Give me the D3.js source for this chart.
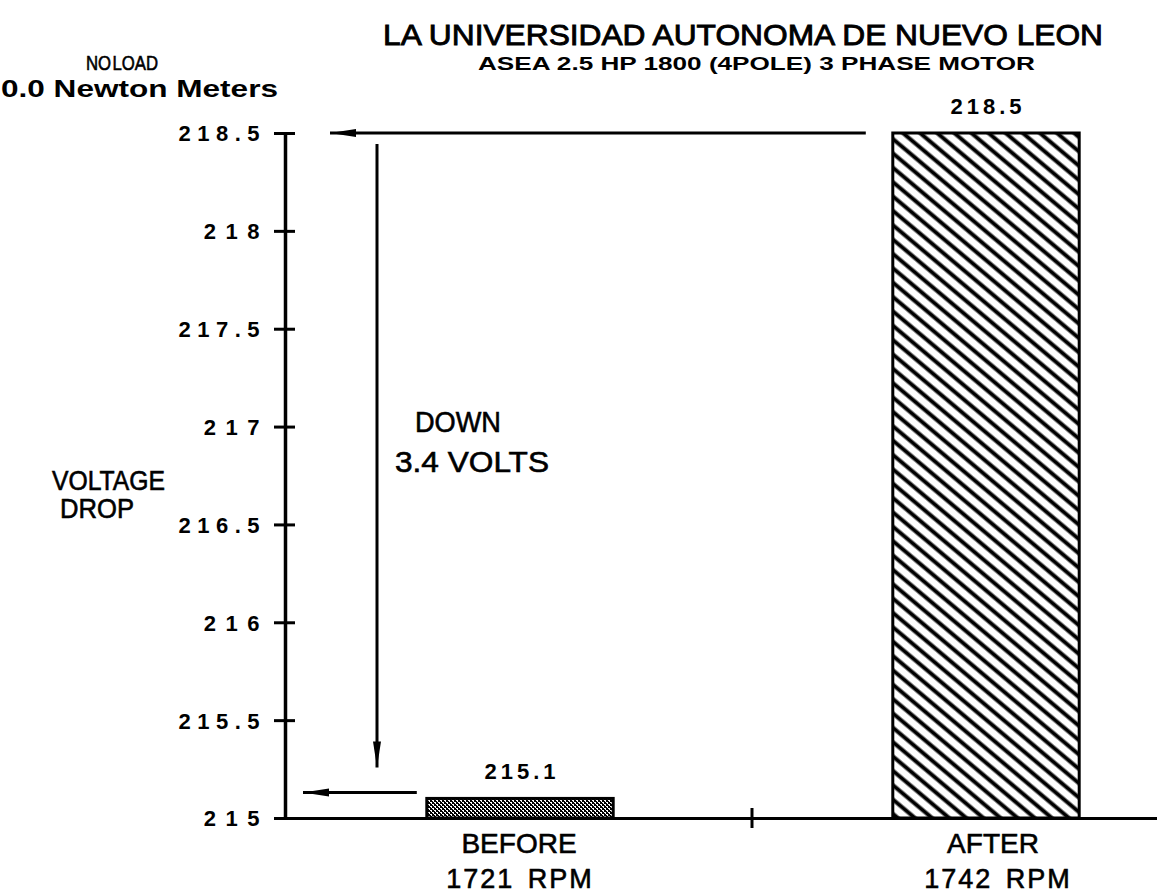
<!DOCTYPE html>
<html>
<head>
<meta charset="utf-8">
<script src="https://cdn.jsdelivr.net/npm/d3@7"></script>
<style>
  body { margin: 0; background: #fff; }
  text { font-family: "Liberation Sans", Arial, Helvetica, sans-serif; fill: #000; }
  .thick { stroke: #000; stroke-width: 0.6px; }
</style>
</head>
<body>
<div id="chart"></div>
<script>
// values
var categories = ["BEFORE", "AFTER"];
var rpmLabels = ["1721 RPM", "1742 RPM"];
var voltage = [215.1, 218.5];
var yTicks = [215, 215.5, 216, 216.5, 217, 217.5, 218, 218.5];

var width = 1157, height = 896;
var margin = {top: 133, right: -62, bottom: 78, left: 285};

var svg = d3.select("#chart").append("svg")
  .attr("width", width)
  .attr("height", height);

var defs = svg.append("defs");

// diagonal hatch for the AFTER bar
var hatch = defs.append("pattern")
  .attr("id", "hatch")
  .attr("patternUnits", "userSpaceOnUse")
  .attr("width", 11).attr("height", 11)
  .attr("patternTransform", "rotate(40)");
hatch.append("rect").attr("width", 11).attr("height", 11).attr("fill", "#fff");
hatch.append("line")
  .attr("x1", 0).attr("x2", 11).attr("y1", 5.5).attr("y2", 5.5)
  .attr("stroke", "#000").attr("stroke-width", 4);

// fine stipple for the BEFORE bar
var dots = defs.append("pattern")
  .attr("id", "stipple")
  .attr("patternUnits", "userSpaceOnUse")
  .attr("width", 4).attr("height", 4);
dots.append("rect").attr("width", 4).attr("height", 4).attr("fill", "#000");
dots.append("rect").attr("x", 0).attr("y", 0).attr("width", 2).attr("height", 1).attr("fill", "#fff");
dots.append("rect").attr("x", 2).attr("y", 2).attr("width", 2).attr("height", 1).attr("fill", "#fff");
dots.append("rect").attr("x", 1).attr("y", 1).attr("width", 1).attr("height", 1).attr("fill", "#fff");
dots.append("rect").attr("x", 3).attr("y", 3).attr("width", 1).attr("height", 1).attr("fill", "#fff");

defs.append("marker")
  .attr("id", "head")
  .attr("viewBox", "0 -5 26 10")
  .attr("refX", 26).attr("refY", 0)
  .attr("markerUnits", "userSpaceOnUse")
  .attr("markerWidth", 26).attr("markerHeight", 10)
  .attr("orient", "auto")
  .append("path")
  .attr("d", "M0,-4L26,0L0,4Z")
  .attr("fill", "#000");

var x = d3.scaleBand()
  .domain(categories)
  .range([margin.left + 2, width - margin.right])
  .padding(0);

var y = d3.scaleLinear()
  .domain([215, 218.5])
  .range([height - margin.bottom, margin.top]);

var barW = x.bandwidth() * 0.4;
var xc = function(c) { return x(c) + x.bandwidth() / 2; };

// titles
svg.append("text")
  .attr("class", "thick")
  .style("stroke-width", "0.9px")
  .attr("x", 383).attr("y", 45)
  .attr("textLength", 720).attr("lengthAdjust", "spacingAndGlyphs")
  .style("font-size", "30px")
  .text("LA UNIVERSIDAD AUTONOMA DE NUEVO LEON");

svg.append("text")
  .attr("x", 478).attr("y", 70)
  .attr("textLength", 557).attr("lengthAdjust", "spacingAndGlyphs")
  .style("font-size", "19px").style("font-weight", "bold")
  .text("ASEA  2.5 HP   1800 (4POLE)  3 PHASE MOTOR");

svg.append("text")
  .attr("class", "thick")
  .attr("x", 86).attr("y", 70)
  .attr("textLength", 72).attr("lengthAdjust", "spacingAndGlyphs")
  .style("font-size", "20px")
  .style("word-spacing", "-4px")
  .text("NO LOAD");

svg.append("text")
  .attr("x", 1).attr("y", 97)
  .attr("textLength", 277).attr("lengthAdjust", "spacingAndGlyphs")
  .style("font-size", "24px").style("font-weight", "bold")
  .text("0.0  Newton  Meters");

// bars
svg.selectAll("rect.bar")
  .data(voltage)
  .join("rect")
  .attr("class", "bar")
  .attr("x", (d, i) => xc(categories[i]) - barW / 2)
  .attr("y", d => y(d))
  .attr("width", barW)
  .attr("height", d => y(215) - y(d))
  .attr("fill", (d, i) => i == 0 ? "url(#stipple)" : "url(#hatch)")
  .attr("stroke", "#000")
  .attr("stroke-width", 3);

svg.selectAll("text.val")
  .data(voltage)
  .join("text")
  .attr("class", "val")
  .attr("x", (d, i) => xc(categories[i]) + 2)
  .attr("y", d => y(d) - 19)
  .attr("text-anchor", "middle")
  .style("font-size", "22px").style("font-weight", "bold")
  .style("letter-spacing", "4px")
  .text(d => d3.format(".1f")(d));

// y axis
var yAxis = d3.axisLeft(y)
  .tickValues(yTicks)
  .tickSize(12)
  .tickSizeOuter(0)
  .tickPadding(14)
  .tickFormat(d => d % 1 == 0 ? d3.format("d")(d) : d3.format(".1f")(d));

var yg = svg.append("g")
  .attr("transform", "translate(" + margin.left + ",0)")
  .call(yAxis);
yg.select(".domain").attr("stroke-width", 3.5);
yg.selectAll(".tick line").attr("x2", -11).attr("x1", 10).attr("stroke-width", 3);
yg.selectAll(".tick text")
  .attr("fill", "#000")
  .attr("dx", d => d % 1 == 0 ? 10 : 7)
  .attr("dy", "0.36em")
  .style("font-family", "'Liberation Sans', Arial, sans-serif")
  .style("font-size", "22px").style("font-weight", "bold")
  .style("letter-spacing", d => d % 1 == 0 ? "9.5px" : "6.5px");

// x axis
var xAxis = d3.axisBottom(x).tickSize(0).tickSizeOuter(0).tickFormat("");
var xg = svg.append("g")
  .attr("transform", "translate(0," + y(215) + ")")
  .call(xAxis);
xg.select(".domain").attr("stroke-width", 3);

// divider tick between the two groups
xg.append("line")
  .attr("x1", x(categories[1]) - 1).attr("x2", x(categories[1]) - 1)
  .attr("y1", -10).attr("y2", 10)
  .attr("stroke", "#000").attr("stroke-width", 3);

svg.selectAll("text.cat")
  .data(categories)
  .join("text")
  .attr("class", "cat thick")
  .attr("x", (d, i) => xc(d) + (i == 0 ? -1 : 7))
  .attr("y", y(215) + 35)
  .attr("text-anchor", "middle")
  .style("font-size", "28px")
  .text(d => d);

svg.selectAll("text.rpm")
  .data(rpmLabels)
  .join("text")
  .attr("class", "rpm thick")
  .attr("x", (d, i) => xc(categories[i]) + (i == 0 ? 0 : 12))
  .attr("y", y(215) + 70)
  .attr("text-anchor", "middle")
  .style("font-size", "27px")
  .style("letter-spacing", "2px")
  .style("word-spacing", "4px")
  .text(d => d);

// annotation arrows
var afterLeft = xc(categories[1]) - barW / 2;
var beforeLeft = xc(categories[0]) - barW / 2;

svg.append("line")
  .attr("x1", afterLeft - 27).attr("x2", margin.left + 45)
  .attr("y1", y(voltage[1])).attr("y2", y(voltage[1]))
  .attr("stroke", "#000").attr("stroke-width", 3)
  .attr("marker-end", "url(#head)");

svg.append("line")
  .attr("x1", margin.left + 92).attr("x2", margin.left + 92)
  .attr("y1", y(voltage[1]) + 11).attr("y2", y(voltage[0]) - 31)
  .attr("stroke", "#000").attr("stroke-width", 3)
  .attr("marker-end", "url(#head)");

svg.append("line")
  .attr("x1", beforeLeft - 10).attr("x2", margin.left + 18)
  .attr("y1", y(voltage[0]) - 6).attr("y2", y(voltage[0]) - 6)
  .attr("stroke", "#000").attr("stroke-width", 3)
  .attr("marker-end", "url(#head)");

// notes
svg.append("text")
  .attr("class", "thick")
  .attr("x", 415).attr("y", 432)
  .style("font-size", "29px")
  .attr("textLength", 86).attr("lengthAdjust", "spacingAndGlyphs")
  .text("DOWN");
svg.append("text")
  .attr("class", "thick")
  .attr("x", 395).attr("y", 472)
  .style("font-size", "29px")
  .attr("textLength", 154).attr("lengthAdjust", "spacingAndGlyphs")
  .text("3.4 VOLTS");

svg.append("text")
  .attr("class", "thick")
  .attr("x", 52).attr("y", 490)
  .style("font-size", "27px")
  .attr("textLength", 113).attr("lengthAdjust", "spacingAndGlyphs")
  .text("VOLTAGE");
svg.append("text")
  .attr("class", "thick")
  .attr("x", 60).attr("y", 518)
  .style("font-size", "27px")
  .attr("textLength", 74).attr("lengthAdjust", "spacingAndGlyphs")
  .text("DROP");
</script>
</body>
</html>
